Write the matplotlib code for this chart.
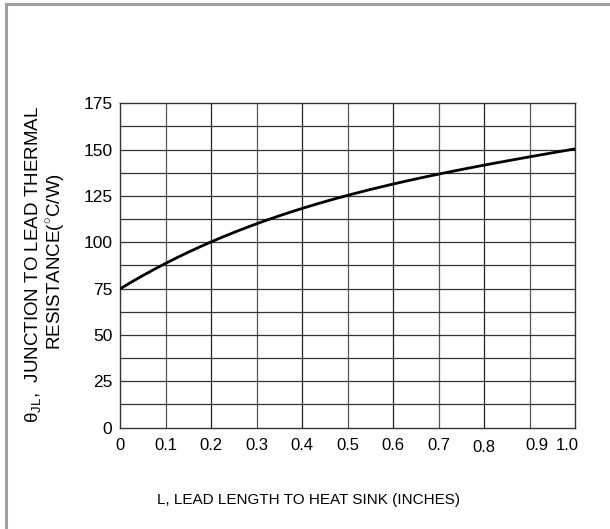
import matplotlib
matplotlib.use("Agg")
import matplotlib.pyplot as plt
from matplotlib.lines import Line2D
from matplotlib.transforms import offset_copy
import numpy as np

# Data
lead_length = [0.0, 0.1, 0.2, 0.3, 0.4, 0.5, 0.6, 0.7, 0.8, 0.9, 1.0]
theta_jl = [75, 88.3, 99.8, 110.5, 118.6, 125, 131, 136.8, 141.8, 146.2, 150.3]
x_ticks = [0.0, 0.1, 0.2, 0.3, 0.4, 0.5, 0.6, 0.7, 0.8, 0.9, 1.0]
x_tick_labels = ["0", "0.1", "0.2", "0.3", "0.4", "0.5", "0.6", "0.7", "0.8", "0.9", "1.0"]
y_ticks = [0, 25, 50, 75, 100, 125, 150, 175]
y_tick_labels = ["0", "25", "50", "75", "100", "125", "150", "175"]

plt.rcParams['font.family'] = ['Liberation Sans', 'DejaVu Sans']
plt.rcParams['mathtext.fontset'] = 'custom'
plt.rcParams['mathtext.rm'] = 'Liberation Sans'

W, H = 610, 529
fig = plt.figure(figsize=(W / 100, H / 100), dpi=100)
ax = fig.add_axes([120 / W, 1 - 427.5 / H, (575 - 120) / W, (427.5 - 103.3) / H])

# smooth curve through the read points
xs = np.linspace(0, 1, 200)
coef = np.polyfit(lead_length, theta_jl, 4)
ax.plot(xs, np.polyval(coef, xs), color="black", lw=2.0, solid_capstyle="butt", zorder=3)

ax.set_xlim(0, 1.0)
ax.set_ylim(0, 175)

# grid
for i, xv in enumerate(x_ticks[1:-1]):
    ax.axvline(xv, color="#555555" if i % 2 == 0 else "#222222", lw=0.9, zorder=1)
for k in range(1, 14):
    ax.axhline(k * 12.5, color="#333333", lw=0.9, zorder=1)

for s in ax.spines.values():
    s.set_color("#333333")
    s.set_linewidth(1.0)

ax.set_yticks(y_ticks)
ax.set_yticklabels(y_tick_labels, fontsize=12.5)
ax.tick_params(axis="y", length=0, pad=5.5)
ax.set_xticks(x_ticks)
ax.set_xticklabels([])
ax.tick_params(axis="x", length=0)

# x tick labels (slight offsets as in the reference)
dx = {9: 7, 10: -8}
dy = {8: -3}
for i, (xv, lab) in enumerate(zip(x_ticks, x_tick_labels)):
    tr = offset_copy(ax.get_xaxis_transform(), fig=fig, x=dx.get(i, 0), y=-10 + dy.get(i, 0), units="dots")
    ax.text(xv, 0, lab, transform=tr, ha="center", va="top", fontsize=12)

# y label (two lines)
fig.text(34 / W, 1 - 264 / H, r"θ$_{\mathrm{JL}}$,  JUNCTION TO LEAD THERMAL",
         rotation=90, ha="center", va="center", fontsize=13.5)
fig.text(56 / W, 1 - 262 / H, r"RESISTANCE($^{\circ}$C/W)",
         rotation=90, ha="center", va="center", fontsize=13.5)

# x label
fig.text(157 / W, 1 - 500 / H, "L, LEAD LENGTH TO HEAT SINK (INCHES)",
         ha="left", va="center", fontsize=11)

# figure border (top and left)
fig.add_artist(Line2D([6 / W, 1], [1 - 4 / H, 1 - 4 / H], transform=fig.transFigure,
                      color="#a0a0a0", lw=2.2))
fig.add_artist(Line2D([6 / W, 6 / W], [0, 1 - 4 / H], transform=fig.transFigure,
                      color="#a0a0a0", lw=2.2))

fig.savefig("out.png", dpi=100)
